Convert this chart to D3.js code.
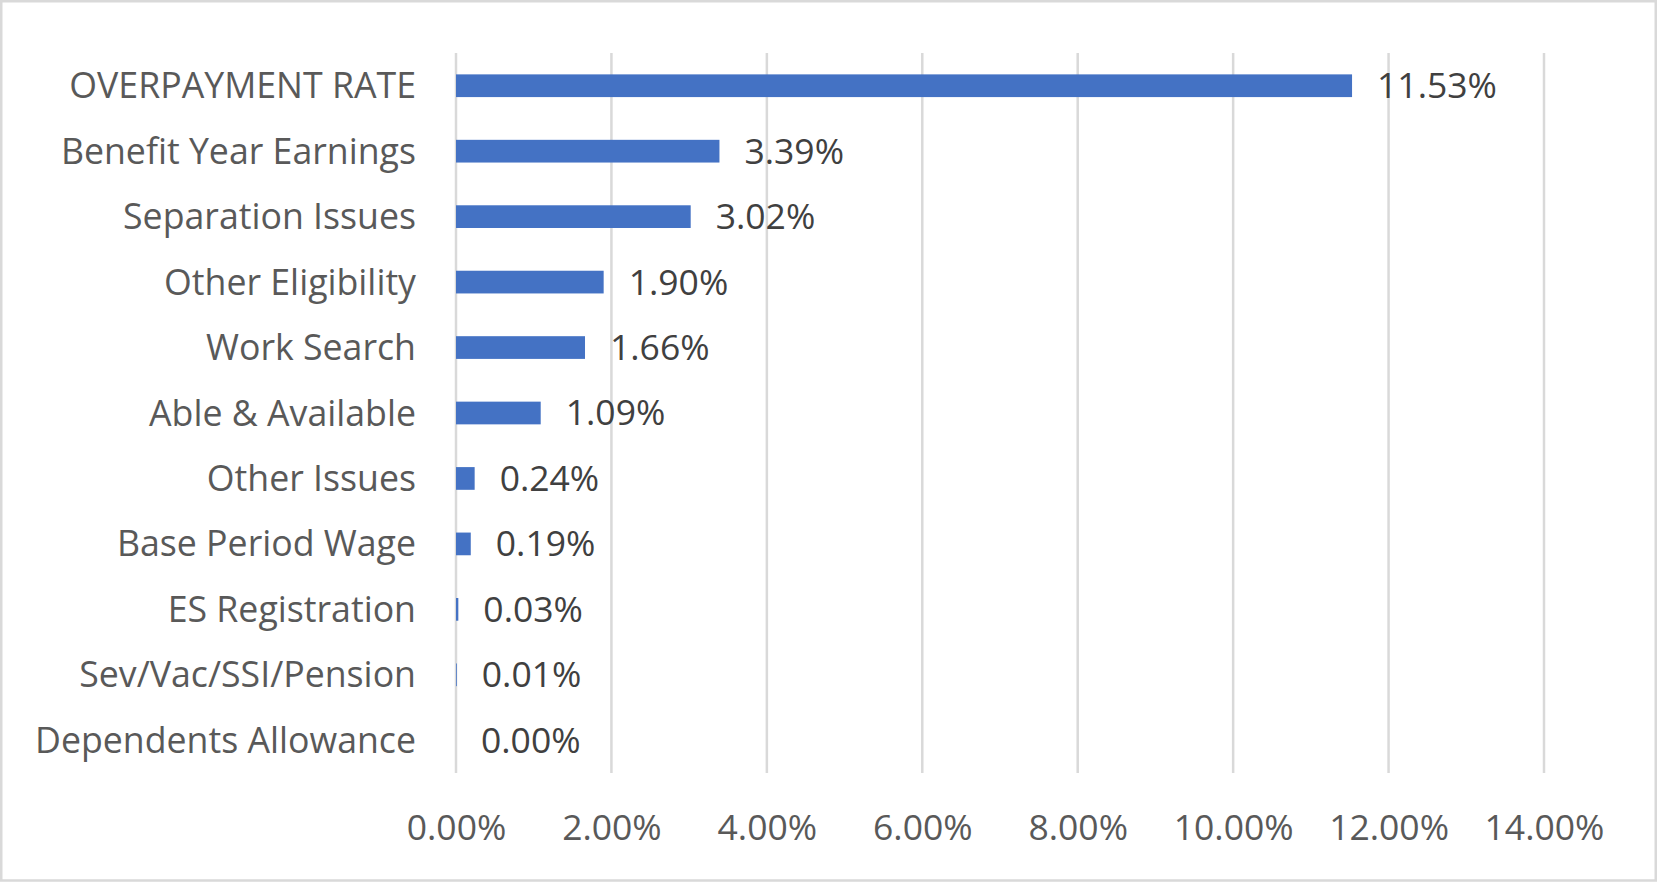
<!DOCTYPE html>
<html>
<head>
<meta charset="utf-8">
<script src="https://cdn.jsdelivr.net/npm/d3@7"></script>
<style>
  html, body { margin: 0; padding: 0; background: #ffffff; }
  svg { display: block; }
  text { font-family: "Open Sans", Lato, sans-serif; }
</style>
</head>
<body>
<svg id="chart" width="1658" height="882"></svg>
<script>
const categories = [
  "OVERPAYMENT RATE",
  "Benefit Year Earnings",
  "Separation Issues",
  "Other Eligibility",
  "Work Search",
  "Able & Available",
  "Other Issues",
  "Base Period Wage",
  "ES Registration",
  "Sev/Vac/SSI/Pension",
  "Dependents Allowance"
];
const values = [11.53, 3.39, 3.02, 1.90, 1.66, 1.09, 0.24, 0.19, 0.03, 0.01, 0.00];
const tickValues = [0, 2, 4, 6, 8, 10, 12, 14];

const W = 1658, H = 882;
const plot = { left: 456, right: 1544, top: 53, bottom: 773 };

const svg = d3.select("#chart");

svg.append("rect")
  .attr("x", 1.25).attr("y", 1.25)
  .attr("width", W - 3.5).attr("height", H - 2.75)
  .attr("fill", "#ffffff")
  .attr("stroke", "#d9d9d9")
  .attr("stroke-width", 2.5);

const x = d3.scaleLinear().domain([0, 14]).range([plot.left, plot.right]);
const y = d3.scaleBand()
  .domain(categories)
  .range([plot.top, plot.bottom])
  .paddingInner(0.653)
  .paddingOuter(0.3265);

const data = categories.map((c, i) => ({ cat: c, val: values[i] }));

// gridlines
svg.append("g")
  .selectAll("line")
  .data(tickValues)
  .join("line")
  .attr("x1", d => x(d)).attr("x2", d => x(d))
  .attr("y1", plot.top).attr("y2", plot.bottom)
  .attr("stroke", "#d9d9d9")
  .attr("stroke-width", 2.5);

// x tick labels
const xAxis = d3.axisBottom(x)
  .tickValues(tickValues)
  .tickSize(0)
  .tickPadding(0)
  .tickFormat(d => d.toFixed(2) + "%");
const gx = svg.append("g")
  .attr("transform", `translate(0, ${plot.bottom})`)
  .call(xAxis);
gx.select(".domain").remove();
gx.selectAll("text")
  .attr("y", 67)
  .attr("dy", null)
  .attr("fill", "#595959")
  .style("font-size", "35.5px");

// y axis labels
const yAxis = d3.axisLeft(y).tickSize(0).tickPadding(40);
const gy = svg.append("g")
  .attr("transform", `translate(${plot.left}, 0)`)
  .call(yAxis);
gy.select(".domain").remove();
gy.selectAll("text")
  .attr("dy", "0.35em")
  .attr("fill", "#595959")
  .style("font-size", "35.7px");

// bars
svg.append("g")
  .selectAll("rect")
  .data(data)
  .join("rect")
  .attr("x", x(0))
  .attr("y", d => y(d.cat))
  .attr("width", d => x(d.val) - x(0))
  .attr("height", y.bandwidth())
  .attr("fill", "#4472c4");

// data labels
svg.append("g")
  .selectAll("text")
  .data(data)
  .join("text")
  .attr("x", d => x(d.val) + 25)
  .attr("y", d => y(d.cat) + y.bandwidth() / 2)
  .attr("dy", "0.35em")
  .attr("fill", "#404040")
  .style("font-size", "35.5px")
  .text(d => d.val.toFixed(2) + "%");
</script>
</body>
</html>
